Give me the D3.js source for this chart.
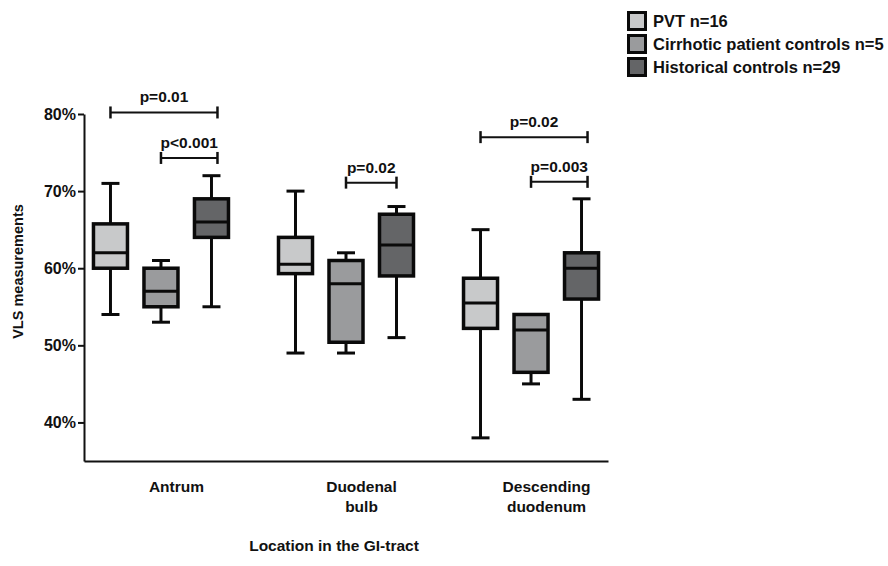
<!DOCTYPE html>
<html>
<head>
<meta charset="utf-8">
<script src="https://cdn.jsdelivr.net/npm/d3@7"></script>
<style>
  html, body { margin: 0; padding: 0; background: #fff; }
  svg { display: block; font-family: "Liberation Sans", Arial, sans-serif; font-weight: bold; }
</style>
</head>
<body>
<svg id="chart" width="888" height="566"></svg>
<script>
// Locations along the GI tract (label lines per location)
const locations = ["Antrum", "Duodenal bulb", "Descending duodenum"];
const locationLines = [["Antrum"], ["Duodenal", "bulb"], ["Descending", "duodenum"]];

// Groups compared
const series = ["PVT n=16", "Cirrhotic patient controls n=5", "Historical controls n=29"];

// Five-number summaries per location: [min, Q1, median, Q3, max] (VLS %)
const pvtStats        = [[54, 60, 62, 65.75, 71], [49, 59.3, 60.5, 64, 70], [38, 52.2, 55.5, 58.7, 65]];
const cirrhoticStats  = [[53, 55, 57, 60, 61],    [49, 50.4, 58, 61, 62],   [45, 46.5, 52, 54, 54]];
const historicalStats = [[55, 64, 66, 69, 72],    [51, 59, 63, 67, 68],     [43, 56, 60, 62, 69]];

// Y axis ticks
const yTicks = [40, 50, 60, 70, 80];

// Pairwise comparisons: location index, series indices, p-value label, bracket height (VLS %)
const comparisons = [
  { loc: 0, a: 0, b: 2, label: "p=0.01",  at: 80.2 },
  { loc: 0, a: 1, b: 2, label: "p<0.001", at: 74.3 },
  { loc: 1, a: 1, b: 2, label: "p=0.02",  at: 71.1 },
  { loc: 2, a: 0, b: 2, label: "p=0.02",  at: 77.0 },
  { loc: 2, a: 1, b: 2, label: "p=0.003", at: 71.2 }
];

const stats = [pvtStats, cirrhoticStats, historicalStats];
const fills = ["#c8c9ca", "#9a9b9d", "#646567"];

const svg = d3.select("#chart");

const plot = { left: 84, right: 608, top: 114, bottom: 461 };

const y = d3.scaleLinear().domain([35, 80]).range([plot.bottom, plot.top]);
const x0 = d3.scalePoint().domain(locations).range([plot.left, plot.right]).padding(0.416);
const x1 = d3.scalePoint().domain(series).range([-50.5, 50.5]);
const boxW = 34, capW = 18;
const ink = "#0a0a0a";

// Y axis
const yAxis = svg.append("g")
  .attr("transform", `translate(${plot.left},0)`)
  .call(d3.axisLeft(y).tickValues(yTicks).tickFormat(d => d + "%").tickSize(6).tickSizeOuter(0));
yAxis.select(".domain").attr("stroke", "#111").attr("stroke-width", 2);
yAxis.selectAll(".tick line").attr("stroke", "#111").attr("stroke-width", 2);
yAxis.selectAll(".tick text").attr("font-size", 16).attr("font-weight", "bold")
  .attr("font-family", "Liberation Sans, Arial, sans-serif").attr("fill", "#111").attr("x", -8);

// X axis
const xAxis = svg.append("g")
  .attr("transform", `translate(0,${plot.bottom})`)
  .call(d3.axisBottom(x0).tickSize(0).tickSizeOuter(0).tickFormat(""));
xAxis.select(".domain").attr("stroke", "#111").attr("stroke-width", 2);
xAxis.selectAll(".tick").each(function (d, i) {
  const t = d3.select(this).append("text")
    .attr("fill", "#111").attr("font-size", 15.5).attr("font-weight", "bold")
    .attr("text-anchor", "middle").attr("x", 15).attr("y", 26);
  locationLines[i].forEach((line, j) => {
    t.append("tspan").attr("x", 15).attr("dy", j === 0 ? "0.35em" : 20).text(line);
  });
});

// Axis titles
svg.append("text")
  .attr("x", (plot.left + plot.right) / 2 - 12).attr("y", 551)
  .attr("text-anchor", "middle").attr("font-size", 15.5).attr("fill", "#111")
  .text("Location in the GI-tract");
svg.append("text")
  .attr("transform", `translate(23,${(plot.top + plot.bottom) / 2 - 16}) rotate(-90)`)
  .attr("text-anchor", "middle").attr("font-size", 14.5).attr("fill", "#111")
  .text("VLS measurements");

// Box plots
const boxes = [];
locations.forEach((loc, li) => {
  series.forEach((s, si) => {
    const [mn, q1, med, q3, mx] = stats[si][li];
    boxes.push({ loc, s, si, mn, q1, med, q3, mx, cx: x0(loc) + x1(s) });
  });
});

const bg = svg.append("g").selectAll("g").data(boxes).join("g");
// whiskers
bg.append("line").attr("x1", d => d.cx).attr("x2", d => d.cx)
  .attr("y1", d => y(d.mx)).attr("y2", d => y(d.q3)).attr("stroke", ink).attr("stroke-width", 3);
bg.append("line").attr("x1", d => d.cx).attr("x2", d => d.cx)
  .attr("y1", d => y(d.q1)).attr("y2", d => y(d.mn)).attr("stroke", ink).attr("stroke-width", 3);
// caps
bg.filter(d => d.mx > d.q3).append("line").attr("x1", d => d.cx - capW / 2).attr("x2", d => d.cx + capW / 2)
  .attr("y1", d => y(d.mx)).attr("y2", d => y(d.mx)).attr("stroke", ink).attr("stroke-width", 3);
bg.filter(d => d.mn < d.q1).append("line").attr("x1", d => d.cx - capW / 2).attr("x2", d => d.cx + capW / 2)
  .attr("y1", d => y(d.mn)).attr("y2", d => y(d.mn)).attr("stroke", ink).attr("stroke-width", 3);
// box
bg.append("rect")
  .attr("x", d => d.cx - boxW / 2).attr("width", boxW)
  .attr("y", d => y(d.q3)).attr("height", d => y(d.q1) - y(d.q3))
  .attr("fill", d => fills[d.si]).attr("stroke", ink).attr("stroke-width", 3.5);
// median
bg.append("line").attr("x1", d => d.cx - boxW / 2).attr("x2", d => d.cx + boxW / 2)
  .attr("y1", d => y(d.med)).attr("y2", d => y(d.med)).attr("stroke", ink).attr("stroke-width", 3);

// Significance brackets (right end sits a little past the box centre)
const cg = svg.append("g").selectAll("g").data(comparisons).join("g");
const bx1 = d => x0(locations[d.loc]) + x1(series[d.a]);
const bx2 = d => x0(locations[d.loc]) + x1(series[d.b]) + (d.loc === 1 ? 0 : 6);
cg.append("line").attr("x1", bx1).attr("x2", bx2).attr("y1", d => y(d.at)).attr("y2", d => y(d.at))
  .attr("stroke", "#111").attr("stroke-width", 2);
cg.append("line").attr("x1", bx1).attr("x2", bx1).attr("y1", d => y(d.at) - 6).attr("y2", d => y(d.at) + 6)
  .attr("stroke", "#111").attr("stroke-width", 2.5);
cg.append("line").attr("x1", bx2).attr("x2", bx2).attr("y1", d => y(d.at) - 6).attr("y2", d => y(d.at) + 6)
  .attr("stroke", "#111").attr("stroke-width", 2.5);
cg.append("text").attr("x", d => (bx1(d) + bx2(d)) / 2).attr("y", d => y(d.at) - 10)
  .attr("text-anchor", "middle").attr("font-size", 15.5).attr("fill", "#111").text(d => d.label);

// Legend
const lg = svg.append("g").attr("transform", "translate(627,11)");
const rows = lg.selectAll("g").data(series).join("g").attr("transform", (d, i) => `translate(0,${i * 23})`);
rows.append("rect").attr("x", 1.5).attr("y", 1.5).attr("width", 17).attr("height", 17)
  .attr("fill", (d, i) => fills[i]).attr("stroke", ink).attr("stroke-width", 3);
rows.append("text").attr("x", 26).attr("y", 10).attr("dy", "0.35em")
  .attr("font-size", 16.5).attr("fill", "#111").text(d => d);
</script>
</body>
</html>
